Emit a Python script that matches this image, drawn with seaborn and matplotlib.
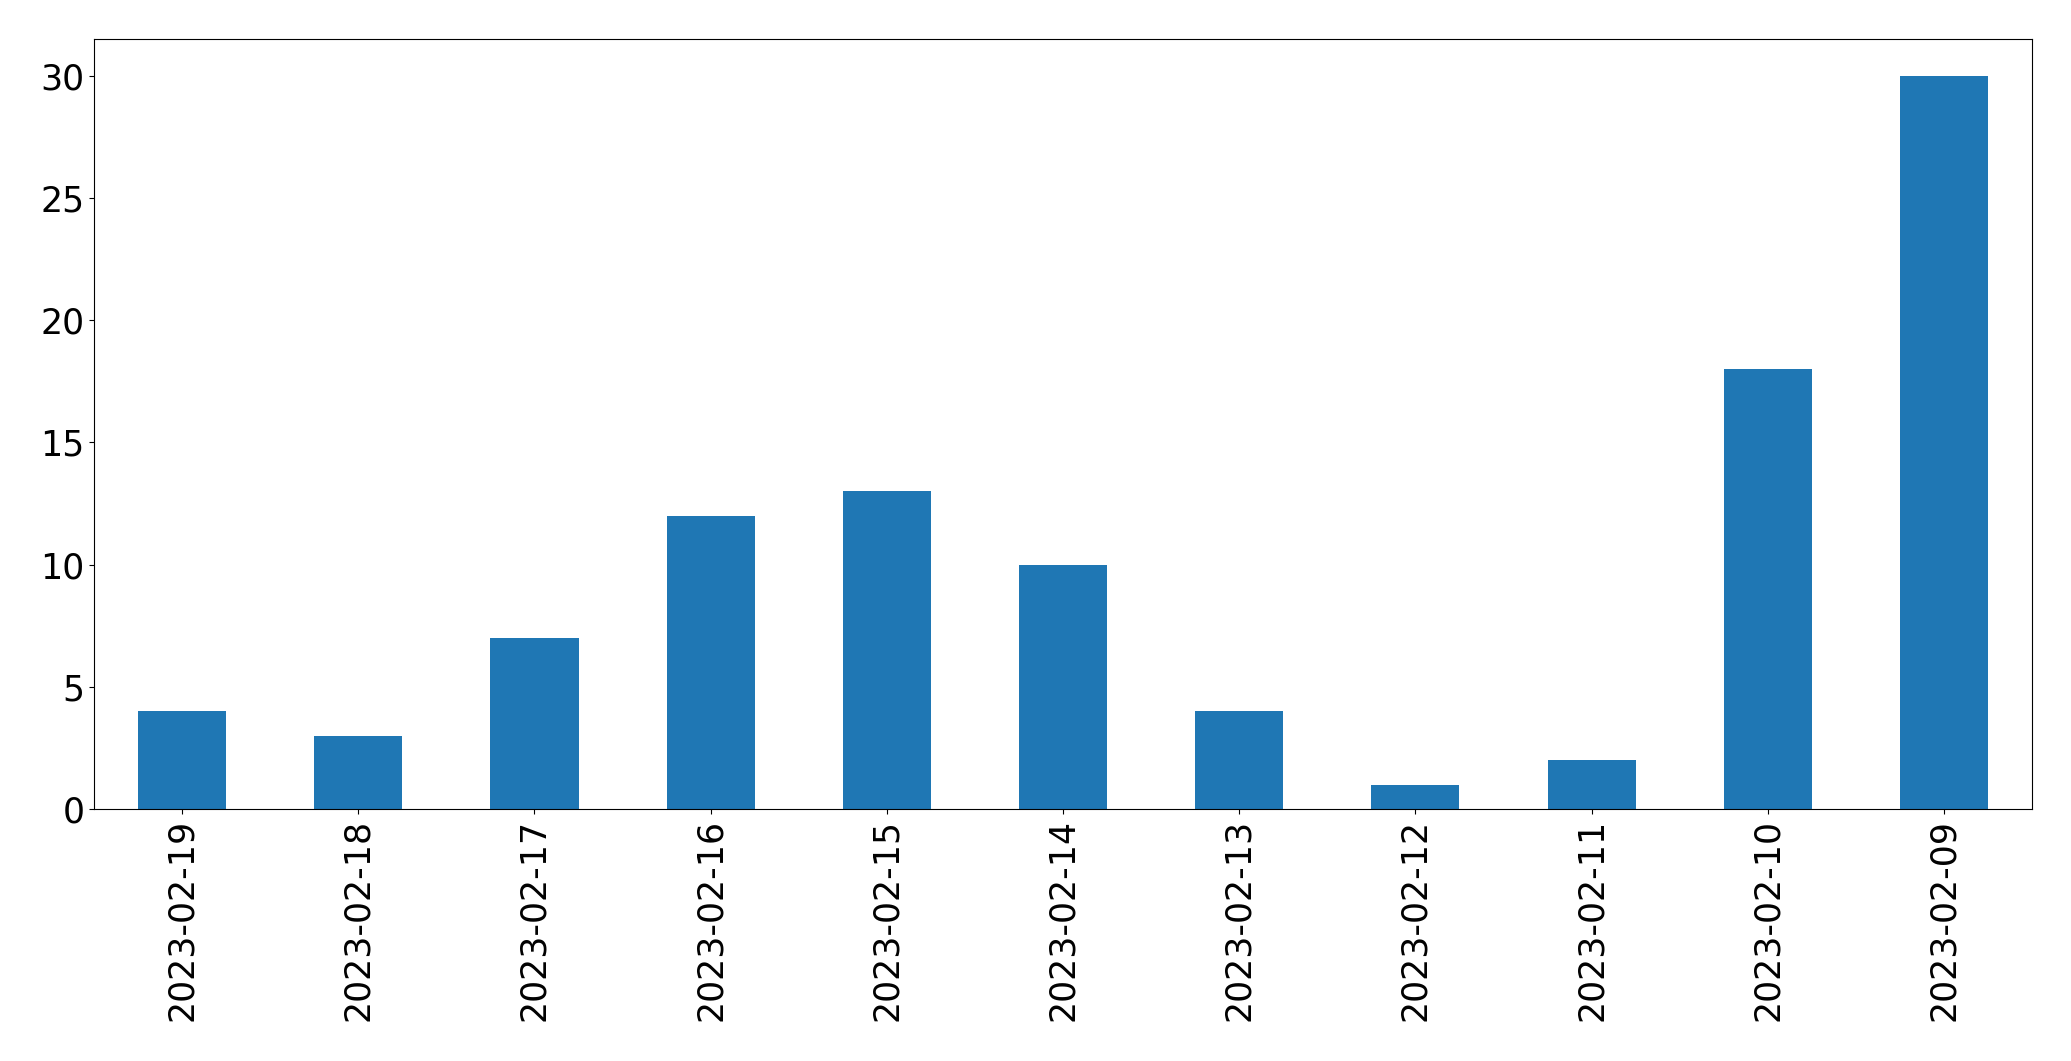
import matplotlib
matplotlib.use("Agg")
import matplotlib.pyplot as plt
import pandas as pd
import seaborn as sns

dates = ['2023-02-19', '2023-02-18', '2023-02-17', '2023-02-16',
         '2023-02-15', '2023-02-14', '2023-02-13', '2023-02-12',
         '2023-02-11', '2023-02-10', '2023-02-09']
counts = [4, 3, 7, 12, 13, 10, 4, 1, 2, 18, 30]

df = pd.DataFrame({'date': dates, 'count': counts})

fig, ax = plt.subplots(figsize=(20.71, 10.61), dpi=100)
sns.barplot(data=df, x='date', y='count', color='#1f77b4', saturation=1,
            width=0.5, ax=ax)
ax.set_xlim(-0.5, len(dates) - 0.5)
ax.set_ylim(0, max(counts) * 1.05)
ax.set_xlabel('')
ax.set_ylabel('')
ax.tick_params(axis='both', labelsize=25)
plt.xticks(rotation=90)
plt.subplots_adjust(left=0.0454, right=0.9812, top=0.9632, bottom=0.2375)
plt.savefig('out.png')
plt.close()
